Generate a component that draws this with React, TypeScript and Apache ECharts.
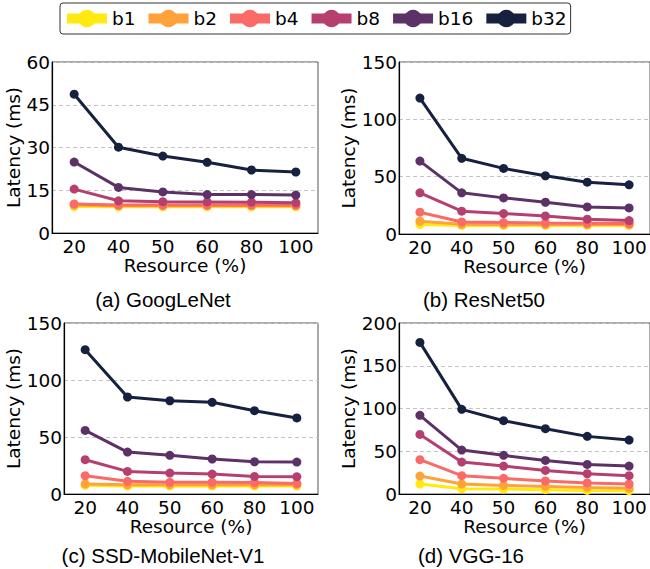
import React, { useEffect, useRef } from "react";
import * as echarts from "echarts";

const categories = ["20", "40", "50", "60", "80", "100"];
const seriesNames = ["b1", "b2", "b4", "b8", "b16", "b32"];
const colors = ["#FFE90F", "#FFA23A", "#FA6A66", "#B5406F", "#5C3168", "#16213F"];

const googlenet = [
  [9.3, 9.2, 9.2, 9.2, 9.2, 9.2],
  [9.8, 9.6, 9.6, 9.6, 9.6, 9.6],
  [10.2, 9.8, 9.8, 9.8, 9.8, 9.8],
  [15.4, 11.3, 11.0, 10.9, 10.8, 10.6],
  [24.9, 16.0, 14.4, 13.5, 13.5, 13.3],
  [48.7, 30.1, 27.0, 24.8, 22.1, 21.4],
];
const resnet50 = [
  [8.2, 7.5, 7.5, 7.5, 7.5, 7.5],
  [11.1, 8.5, 8.2, 8.2, 8.2, 8.2],
  [19.0, 10.5, 10.0, 9.6, 9.4, 9.1],
  [35.9, 19.9, 17.8, 15.8, 12.9, 11.7],
  [63.6, 35.9, 31.5, 27.7, 23.6, 22.7],
  [118.5, 66.0, 57.2, 50.8, 45.2, 42.9],
];
const ssdMobilenet = [
  [7.6, 7.0, 7.0, 7.0, 7.0, 7.0],
  [8.8, 8.2, 8.2, 8.2, 8.2, 8.2],
  [16.0, 11.1, 10.2, 10.2, 10.0, 9.3],
  [30.1, 19.8, 18.4, 17.5, 15.4, 15.2],
  [55.8, 36.8, 33.9, 30.7, 28.3, 28.0],
  [126.6, 85.1, 81.8, 80.4, 73.1, 66.7],
];
const vgg16 = [
  [11.7, 6.2, 5.8, 5.0, 4.2, 3.9],
  [21.0, 11.7, 10.0, 8.9, 7.7, 6.6],
  [40.1, 21.4, 18.3, 15.2, 12.9, 11.7],
  [69.7, 37.4, 32.7, 27.6, 23.7, 21.4],
  [92.0, 51.4, 45.2, 39.3, 34.6, 32.7],
  [177.3, 99.0, 85.7, 76.4, 67.4, 63.1],
];

const panelData = [googlenet, resnet50, ssdMobilenet, vgg16];
const captions = ["(a) GoogLeNet", "(b) ResNet50", "(c) SSD-MobileNet-V1", "(d) VGG-16"];
const yMax = [60, 150, 150, 200];
const yInterval = [15, 50, 50, 50];
const xTitle = "Resource (%)";
const yTitle = "Latency (ms)";

const grids = [
  { left: 52, top: 62, width: 266, height: 171 },
  { left: 399, top: 62, width: 252, height: 172 },
  { left: 64, top: 323, width: 254, height: 171 },
  { left: 399, top: 323, width: 252, height: 171 },
];
const yNameGap = [27, 40, 39, 40];
const captionPos = [
  [163, 299],
  [484, 299],
  [163, 555],
  [471, 555],
];

const FONT = "DejaVu Sans";

export default function App() {
  const ref = useRef<HTMLDivElement>(null);
  useEffect(() => {
    if (!ref.current) return;
    const chart = echarts.init(ref.current, undefined, { renderer: "svg" });
    const xAxis: any[] = [];
    const yAxis: any[] = [];
    const series: any[] = [];
    grids.forEach((g, i) => {
      xAxis.push({
        type: "category",
        gridIndex: i,
        data: categories,
        boundaryGap: true,
        name: xTitle,
        nameLocation: "middle",
        nameGap: 24,
        nameTextStyle: { fontFamily: FONT, fontSize: 18.5, lineHeight: 16, color: "#000" },
        axisLine: { lineStyle: { color: "#000", width: 1.2 } },
        axisTick: { show: false },
        axisLabel: { fontFamily: FONT, fontSize: 18.5, lineHeight: 16, color: "#000", margin: 5, interval: 0 },
        splitLine: { show: false },
      });
      yAxis.push({
        type: "value",
        gridIndex: i,
        min: 0,
        max: yMax[i],
        interval: yInterval[i],
        name: yTitle,
        nameLocation: "middle",
        nameGap: yNameGap[i],
        nameTextStyle: { fontFamily: FONT, fontSize: 18.5, lineHeight: 18, color: "#000" },
        axisLine: { show: true, lineStyle: { color: "#000", width: 1.2 } },
        axisTick: { show: false },
        axisLabel: { fontFamily: FONT, fontSize: 18.5, lineHeight: 16, color: "#000", margin: 2 },
        splitLine: { show: true, lineStyle: { color: "#c4c4c4", type: [4, 3], width: 1 } },
      });
      panelData[i].forEach((vals, s) => {
        series.push({
          type: "line",
          name: seriesNames[s],
          xAxisIndex: i,
          yAxisIndex: i,
          data: vals,
          symbol: "circle",
          symbolSize: 9,
          showSymbol: true,
          lineStyle: { width: 3, color: colors[s] },
          itemStyle: { color: colors[s] },
          emphasis: { disabled: true },
        });
      });
    });
    chart.setOption({
      animation: false,
      grid: grids.map((g) => ({ ...g, show: true, borderColor: "#555", borderWidth: 1, backgroundColor: "transparent", containLabel: false })),
      xAxis,
      yAxis,
      series,
      legend: {
        data: seriesNames,
        left: 60,
        top: 3,
        orient: "horizontal",
        padding: [6, 4, 6, 2],
        itemGap: 8,
        itemWidth: 40,
        itemHeight: 22,
        borderColor: "#333",
        borderWidth: 1,
        borderRadius: 3,
        lineStyle: { width: 10 },
        textStyle: { fontFamily: FONT, fontSize: 18.5, color: "#000" },
      },
      graphic: captions.map((c, i) => ({
        type: "text",
        x: captionPos[i][0],
        y: captionPos[i][1],
        style: {
          text: c,
          fontFamily: "Liberation Sans",
          fontSize: 20.5,
          fill: "#000",
          align: "center",
          verticalAlign: "middle",
        },
      })),
    });
    return () => chart.dispose();
  }, []);
  return (
    <div
      ref={ref}
      style={{ position: "fixed", left: 0, top: 0, width: 650, height: 569, background: "#fff" }}
    />
  );
}
